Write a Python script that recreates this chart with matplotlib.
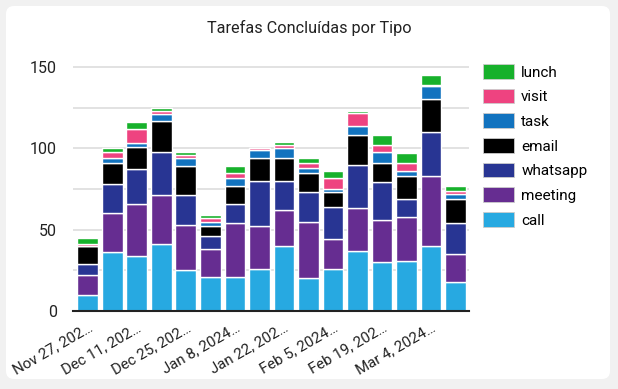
import matplotlib
matplotlib.use("Agg")
import matplotlib.pyplot as plt
from matplotlib.patches import FancyBboxPatch, Patch
import numpy as np

plt.rcParams["font.family"] = ["Roboto", "DejaVu Sans"]

# weekly buckets, label shown on every other bar
weeks = ["Nov 27, 2023", "Dec 4, 2023", "Dec 11, 2023", "Dec 18, 2023",
         "Dec 25, 2023", "Jan 1, 2024", "Jan 8, 2024", "Jan 15, 2024",
         "Jan 22, 2024", "Jan 29, 2024", "Feb 5, 2024", "Feb 12, 2024",
         "Feb 19, 2024", "Feb 26, 2024", "Mar 4, 2024", "Mar 11, 2024"]
tick_labels = ["Nov 27, 202…", "Dec 11, 202…", "Dec 25, 202…", "Jan 8, 2024…",
               "Jan 22, 202…", "Feb 5, 2024…", "Feb 19, 202…", "Mar 4, 2024…"]

call = [10, 36, 34, 41, 25, 21, 21, 26, 40, 20, 26, 37, 30, 31, 40, 18]
meeting = [12, 24, 32, 30, 28, 17, 33, 26, 22, 35, 18, 26, 26, 27, 43, 17]
whatsapp = [7, 18, 21, 27, 18, 8, 12, 28, 18, 18, 20, 27, 23, 11, 27, 19]
email = [11, 13, 14, 19, 18, 6, 11, 14, 14, 12, 9, 18, 12, 14, 20, 15]
task = [0, 3, 2, 4, 5, 3, 5, 5, 6, 3, 2, 6, 7, 3, 8, 3]
visit = [1, 4, 9, 2, 2, 2, 3, 1, 2, 3, 7, 8, 4, 5, 1, 2]
lunch = [4, 2, 4, 2, 2, 2, 4, 0, 2, 3, 4, 1, 6, 6, 6, 3]

series = [("call", call, "#27a9e1"),
          ("meeting", meeting, "#662d91"),
          ("whatsapp", whatsapp, "#283593"),
          ("email", email, "#000000"),
          ("task", task, "#1273bf"),
          ("visit", visit, "#ee4380"),
          ("lunch", lunch, "#17b12b")]

W, H = 618, 389
fig = plt.figure(figsize=(W / 100, H / 100), dpi=100)
fig.patch.set_facecolor("#f1f1f1")

# white rounded card behind the chart, in pixel units
bg = fig.add_axes([0, 0, 1, 1], zorder=-5)
bg.set_xlim(0, W)
bg.set_ylim(H, 0)
bg.axis("off")
bg.add_patch(FancyBboxPatch((6, 6), 604, 373, boxstyle="round,pad=0,rounding_size=8",
                            facecolor="white", edgecolor="none"))

ax = fig.add_axes([73 / W, 1 - 311 / H, (469 - 73) / W, (311 - 55) / H])
ax.set_facecolor("none")

x = np.arange(len(weeks))
bottom = np.zeros(len(weeks))
for name, vals, color in series:
    vals = np.array(vals, dtype=float)
    ax.bar(x, vals, bottom=bottom, width=0.84, color=color,
           edgecolor="white", linewidth=1.0, zorder=3)
    bottom += vals

ax.set_xlim(-0.6, len(weeks) - 0.45)
ax.set_ylim(0, (311 - 55) / 1.627)
ax.set_yticks([0, 50, 100, 150])
ax.set_yticks([25, 75, 125], minor=True)
ax.yaxis.grid(True, which="both", color="#dddddd", linewidth=1.2, zorder=0)
ax.tick_params(axis="y", which="both", length=0, labelsize=11.5, pad=11.5, labelcolor="#222222")
ax.tick_params(axis="x", length=0, labelsize=10.8, pad=7, labelcolor="#222222")
ax.set_xticks(x[::2])
ax.set_xticklabels(tick_labels, rotation=30, ha="right", rotation_mode="anchor")
for side in ["top", "right", "left"]:
    ax.spines[side].set_visible(False)
ax.spines["bottom"].set_color("#222222")
ax.spines["bottom"].set_linewidth(1.5)
ax.spines["bottom"].set_zorder(4)

fig.text(309 / W, 1 - 28 / H, "Tarefas Concluídas por Tipo", ha="center", va="center",
         fontsize=11.7, color="#222222")

handles = [Patch(facecolor=c, edgecolor="#cccccc", linewidth=0.6, label=n)
           for n, v, c in series[::-1]]
fig.legend(handles=handles, loc="upper left", bbox_to_anchor=(483 / W, 1 - 64 / H),
           frameon=False, fontsize=11, handlelength=2.0, handleheight=1.1,
           labelspacing=0.6, handletextpad=0.5, borderpad=0, borderaxespad=0)

fig.savefig("out.png", dpi=100)
